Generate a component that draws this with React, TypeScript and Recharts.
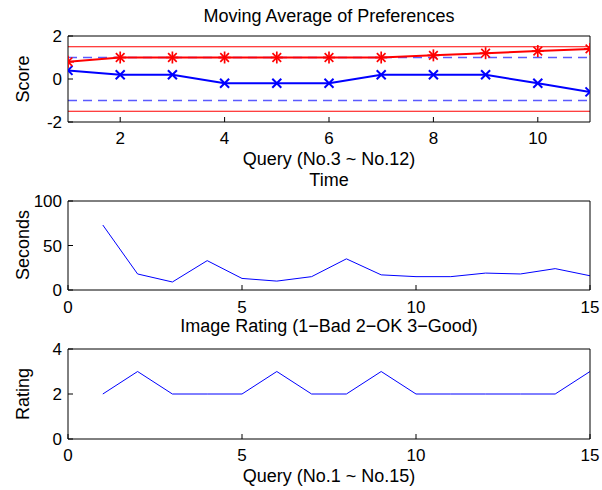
import { LineChart, Line, XAxis, YAxis, ReferenceLine } from 'recharts';

// Moving average panel (queries 3..12 -> steps 1..11)
const steps = [1, 2, 3, 4, 5, 6, 7, 8, 9, 10, 11];
const upperAvg = [0.8, 1.0, 1.0, 1.0, 1.0, 1.0, 1.0, 1.1, 1.2, 1.3, 1.4];
const lowerAvg = [0.4, 0.2, 0.2, -0.2, -0.2, -0.2, 0.2, 0.2, 0.2, -0.2, -0.6];
const outerLimits = [1.5, -1.5];
const innerLimits = [1, -1];
const stepTicks = [2, 4, 6, 8, 10];
const scoreTicks = [-2, 0, 2];

// Time panel
const queryIds = [1, 2, 3, 4, 5, 6, 7, 8, 9, 10, 11, 12, 13, 14, 15];
const seconds = [73, 18, 9, 33, 13, 10, 15, 35, 17, 15, 15, 19, 18, 24, 16];
const secondsTicks = [0, 50, 100];

// Rating panel
const ratings = [2, 3, 2, 2, 2, 3, 2, 2, 3, 2, 2, 2, 2, 2, 3];
const ratingTicks = [0, 2, 4];
const queryTicks = [0, 5, 10, 15];

const FONT = "'Liberation Sans', Arial, Helvetica, sans-serif";
const W = 602;
const PLOT_LEFT = 68;
const PLOT_RIGHT = 590;
const BOTTOM_AXIS_H = 32;
const LEFT_AXIS_W = 44;

const avgData = steps.map((s, i) => ({ x: s, up: upperAvg[i], low: lowerAvg[i] }));
const timeData = queryIds.map((q, i) => ({ x: q, v: seconds[i] }));
const ratingData = queryIds.map((q, i) => ({ x: q, v: ratings[i] }));

const tickFont = { fontSize: 17, fill: '#000', fontFamily: FONT };

const Star = (props: any) => {
  const { cx, cy } = props;
  if (cx == null || cy == null) return null;
  const r = 6;
  const d = r * 0.72;
  return (
    <g stroke="#ff0000" strokeWidth={1.7}>
      <line x1={cx - r} y1={cy} x2={cx + r} y2={cy} />
      <line x1={cx} y1={cy - r} x2={cx} y2={cy + r} />
      <line x1={cx - d} y1={cy - d} x2={cx + d} y2={cy + d} />
      <line x1={cx - d} y1={cy + d} x2={cx + d} y2={cy - d} />
    </g>
  );
};

const Cross = (props: any) => {
  const { cx, cy } = props;
  if (cx == null || cy == null) return null;
  const d = 4.5;
  return (
    <g stroke="#0000ff" strokeWidth={2}>
      <line x1={cx - d} y1={cy - d} x2={cx + d} y2={cy + d} />
      <line x1={cx - d} y1={cy + d} x2={cx + d} y2={cy - d} />
    </g>
  );
};

// box axes with inward ticks, like a MATLAB figure
const boxAxes = (xDomain: number[], xTicks: number[], yDomain: number[], yTicks: number[], xMargin: number) => [
  <XAxis key="xb" xAxisId="b" dataKey="x" type="number" domain={xDomain} ticks={xTicks}
    allowDataOverflow height={BOTTOM_AXIS_H} tickSize={-5} tickMargin={xMargin}
    stroke="#000" tick={tickFont} interval={0} />,
  <XAxis key="xt" xAxisId="t" orientation="top" dataKey="x" type="number" domain={xDomain} ticks={xTicks}
    allowDataOverflow height={1} tickSize={-5} stroke="#000" tick={false} interval={0} />,
  <YAxis key="yl" yAxisId="l" type="number" domain={yDomain} ticks={yTicks} allowDataOverflow
    width={LEFT_AXIS_W} tickSize={-5} tickMargin={11} stroke="#000" tick={tickFont} interval={0} />,
  <YAxis key="yr" yAxisId="r" orientation="right" type="number" domain={yDomain} ticks={yTicks}
    allowDataOverflow width={1} tickSize={-5} stroke="#000" tick={false} interval={0} />,
];

const panelMargin = (height: number, top: number, bottom: number) => ({
  top: top - 1,
  bottom: height - bottom - BOTTOM_AXIS_H,
  left: PLOT_LEFT - LEFT_AXIS_W,
  right: W - PLOT_RIGHT - 1,
});

const centerText = (text: string, cy: number) => (
  <div style={{
    position: 'absolute', left: PLOT_LEFT, width: PLOT_RIGHT - PLOT_LEFT, top: cy - 10,
    height: 20, lineHeight: '20px', textAlign: 'center', fontSize: 18, fontFamily: FONT, color: '#000',
  }}>{text}</div>
);

const yText = (text: string, cy: number) => (
  <div style={{
    position: 'absolute', left: 23 - 50, top: cy - 10, width: 100, height: 20, lineHeight: '20px',
    textAlign: 'center', fontSize: 18, fontFamily: FONT, color: '#000', transform: 'rotate(-90deg)',
  }}>{text}</div>
);

export default function App() {
  const h1 = 160, h2 = 150, h3 = 150;
  return (
    <div style={{ position: 'absolute', left: 0, top: 0, width: W, height: 490, background: '#fff', overflow: 'hidden' }}>
      <div style={{ position: 'absolute', left: 0, top: 0 }}>
        <LineChart width={W} height={h1} data={avgData} margin={panelMargin(h1, 36, 122)}>
          {boxAxes([1, 11], stepTicks, [-2, 2], scoreTicks, 15)}
          {outerLimits.map((v) => (
            <ReferenceLine key={`o${v}`} xAxisId="b" yAxisId="l" y={v} stroke="#ff0000" strokeWidth={1.2} />
          ))}
          {innerLimits.map((v) => (
            <ReferenceLine key={`i${v}`} xAxisId="b" yAxisId="l" y={v} stroke="#5a5aff" strokeWidth={1.5} strokeDasharray="9 6" />
          ))}
          <Line xAxisId="b" yAxisId="l" dataKey="low" stroke="#0000ff" strokeWidth={2} dot={<Cross />} isAnimationActive={false} />
          <Line xAxisId="b" yAxisId="l" dataKey="up" stroke="#ff0000" strokeWidth={2} dot={<Star />} isAnimationActive={false} />
        </LineChart>
      </div>
      <div style={{ position: 'absolute', left: 0, top: 180 }}>
        <LineChart width={W} height={h2} data={timeData} margin={panelMargin(h2, 21, 110)}>
          {boxAxes([0, 15], queryTicks, [0, 100], secondsTicks, 16)}
          <Line xAxisId="b" yAxisId="l" dataKey="v" stroke="#0000ff" strokeWidth={1} dot={false} isAnimationActive={false} />
        </LineChart>
      </div>
      <div style={{ position: 'absolute', left: 0, top: 330 }}>
        <LineChart width={W} height={h3} data={ratingData} margin={panelMargin(h3, 19, 109)}>
          {boxAxes([0, 15], queryTicks, [0, 4], ratingTicks, 15)}
          <Line xAxisId="b" yAxisId="l" dataKey="v" stroke="#0000ff" strokeWidth={1} dot={false} isAnimationActive={false} />
        </LineChart>
      </div>
      {centerText('Moving Average of Preferences', 16)}
      {centerText('Query (No.3 ~ No.12)', 159)}
      {centerText('Time', 180)}
      {centerText('Image Rating (1\u2212Bad 2\u2212OK 3\u2212Good)', 326)}
      {centerText('Query (No.1 ~ No.15)', 476)}
      {yText('Score', 79)}
      {yText('Seconds', 245)}
      {yText('Rating', 394)}
    </div>
  );
}
